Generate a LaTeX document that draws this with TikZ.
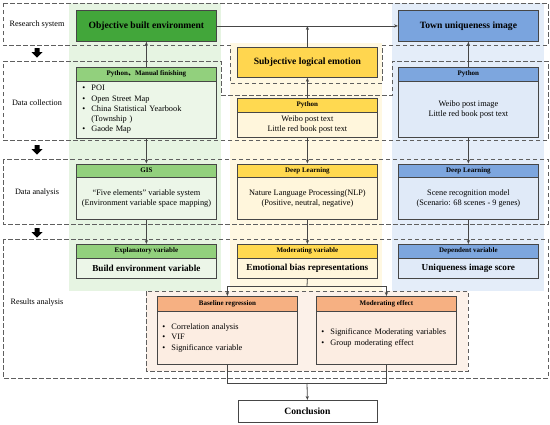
\documentclass[tikz,border=0pt]{standalone}
\usepackage{fontspec}
\setmainfont{Liberation Serif}
\newfontfamily\cjk{Noto Sans CJK SC}
\usetikzlibrary{arrows.meta}
\definecolor{objgreen}{RGB}{66,166,58}
\definecolor{hdrgreen}{RGB}{146,208,125}
\definecolor{bodygreen}{RGB}{236,246,232}
\definecolor{bggreen}{RGB}{230,244,226}
\definecolor{subjyellow}{RGB}{255,214,79}
\definecolor{hdryellow}{RGB}{255,217,80}
\definecolor{bodyyellow}{RGB}{255,246,220}
\definecolor{bgyellow}{RGB}{255,248,226}
\definecolor{townblue}{RGB}{122,164,222}
\definecolor{hdrblue}{RGB}{125,166,222}
\definecolor{bodyblue}{RGB}{224,234,248}
\definecolor{bgblue}{RGB}{228,237,249}
\definecolor{hdrorange}{RGB}{246,176,130}
\definecolor{bodyorange}{RGB}{252,237,226}
\definecolor{bgorange}{RGB}{252,241,233}
\definecolor{boxline}{RGB}{70,70,70}
\definecolor{dashline}{RGB}{95,95,95}
\newcommand\bul{\makebox[9pt][l]{\textbullet}}
\begin{document}
\begin{tikzpicture}[x=1pt,y=-1pt,
  frame/.style={draw=dashline,line width=0.9pt,dash pattern=on 4.5pt off 2.5pt},
  title/.style={draw=boxline,line width=0.8pt,minimum width=140pt,minimum height=31pt,inner sep=0pt,anchor=north west,font=\fontsize{9.6}{11}\selectfont\bfseries},
  hdr/.style={draw=boxline,line width=0.8pt,minimum width=140pt,minimum height=13.5pt,inner sep=0pt,anchor=north west,font=\fontsize{7}{8}\selectfont\bfseries},
  body/.style={draw=boxline,line width=0.8pt,minimum width=140pt,inner sep=0pt,anchor=north west,align=center,font=\fontsize{8.3}{10.3}\selectfont},
  listbody/.style={draw=boxline,line width=0.8pt,text width=128pt,inner xsep=6pt,inner ysep=0pt,anchor=north west,align=left,font=\fontsize{8.3}{10.2}\selectfont},
  res/.style={draw=boxline,line width=0.8pt,minimum width=140pt,inner sep=0pt,anchor=north west,font=\fontsize{9.2}{11}\selectfont\bfseries},
  lab/.style={font=\fontsize{8.2}{10}\selectfont},
  arr/.style={draw=boxline,line width=0.8pt,-{Stealth[length=4pt,width=3.2pt]}},
  con/.style={draw=boxline,line width=0.8pt}]
\useasboundingbox (0,0) rectangle (550,424);
\fill[white] (0,0) rectangle (550,424);
% column backgrounds
\fill[bggreen] (69,3) rectangle (221,291);
\fill[bgyellow] (230,43) rectangle (382,291);
\fill[bgblue] (392,3) rectangle (544,291);
\fill[bgorange] (146,291) rectangle (468,371);
% dashed frames
\draw[frame] (3,3) -- (548,3) -- (548,45) -- (382,45) -- (382,83) -- (230,83) -- (230,45) -- (3,45) -- cycle;
\draw[frame] (3,61) -- (221,61) -- (221,95) -- (392,95) -- (392,61) -- (548,61) -- (548,140) -- (3,140) -- cycle;
\draw[frame] (3,159) rectangle (548,224);
\draw[frame] (3,239) rectangle (548,378);
\draw[frame] (146,291) rectangle (468,371);
% big down arrows
\foreach \yy in {48,145,228}{
  \fill[black] (34.5,\yy) -- (39.5,\yy) -- (39.5,\yy+4) -- (42.5,\yy+4) -- (37,\yy+9.5) -- (31.5,\yy+4) -- (34.5,\yy+4) -- cycle;
}
% row labels
\node[lab] (lab1) at (37,25) {Research system};
\node[lab] (lab2) at (37,103) {Data collection};
\node[lab] (lab3) at (37,193) {Data analysis};
\node[lab] (lab4) at (37,303) {Results analysis};
% research system
\node[title,fill=objgreen] (obj) at (76,10) {Objective built environment};
\node[title,fill=subjyellow,minimum height=30pt] (subj) at (237,47) {Subjective logical emotion};
\node[title,fill=townblue] (town) at (398,10) {Town uniqueness image};
% data collection
\node[hdr,fill=hdrgreen] (gh1) at (76,67) {Python{\cjk 、}Manual finishing};
\node[listbody,fill=bodygreen,minimum height=57pt] (gb1) at (76,80.5) {\bul POI\\\bul Open Street Map\\\bul China Statistical Yearbook\\\hspace*{9pt}(Township )\\\bul Gaode Map};
\node[hdr,fill=hdryellow] (yh1) at (237,98) {Python};
\node[body,fill=bodyyellow,minimum height=25.5pt] (yb1) at (237,111.5) {Weibo post text\\Little red book post text};
\node[hdr,fill=hdrblue] (bh1) at (398,67) {Python};
\node[body,fill=bodyblue,minimum height=56.5pt] (bb1) at (398,80.5) {Weibo post image\\Little red book post text};
% data analysis
\node[hdr,fill=hdrgreen] (gh2) at (76,163.5) {GIS};
\node[body,fill=bodygreen,minimum height=42pt] (gb2) at (76,177) {“Five elements” variable system\\(Environment variable space mapping)};
\node[hdr,fill=hdryellow] (yh2) at (237,163.5) {Deep Learning};
\node[body,fill=bodyyellow,minimum height=42pt] (yb2) at (237,177) {Nature Language Processing(NLP)\\(Positive, neutral, negative)};
\node[hdr,fill=hdrblue] (bh2) at (398,163.5) {Deep Learning};
\node[body,fill=bodyblue,minimum height=42pt] (bb2) at (398,177) {Scene recognition model\\(Scenario: 68 scenes - 9 genes)};
% results
\node[hdr,fill=hdrgreen] (gh3) at (76,244) {Explanatory variable};
\node[res,fill=bodygreen,minimum height=20.5pt] (gb3) at (76,257.5) {Build environment variable};
\node[hdr,fill=hdryellow] (yh3) at (237,244) {Moderating variable};
\node[res,fill=bodyyellow,minimum height=20.5pt] (yb3) at (237,257.5) {Emotional bias representations};
\node[hdr,fill=hdrblue] (bh3) at (398,244) {Dependent variable};
\node[res,fill=bodyblue,minimum height=20.5pt] (bb3) at (398,257.5) {Uniqueness image score};
% orange boxes
\node[hdr,fill=hdrorange,minimum height=15pt] (oh1) at (157,296) {Baseline regression};
\node[listbody,fill=bodyorange,minimum height=53pt,inner xsep=5pt,text width=130pt] (ob1) at (157,311) {\bul Correlation analysis\\\bul VIF\\\bul Significance variable};
\node[hdr,fill=hdrorange,minimum height=15pt] (oh2) at (316,296) {Moderating effect};
\node[listbody,fill=bodyorange,minimum height=53pt,inner xsep=5pt,text width=130pt] (ob2) at (316,311) {\bul Significance Moderating variables\\\bul Group moderating effect};
% conclusion
\node[draw=boxline,line width=0.8pt,fill=white,minimum width=139pt,minimum height=22pt,inner sep=0pt,anchor=north west,font=\fontsize{9.6}{11}\selectfont\bfseries] (concl) at (237.5,400) {Conclusion};
% connectors
\draw[arr] (obj.east) -- (town.west);
\draw[arr] (subj.north) -- (subj.north |- obj.east);
\draw[arr] (gh1.north) -- (obj.south);
\draw[arr] (yh1.north) -- (subj.south);
\draw[arr] (bh1.north) -- (town.south);
\draw[arr] (gb1.south) -- (gh2.north);
\draw[arr] (yb1.south) -- (yh2.north);
\draw[arr] (bb1.south) -- (bh2.north);
\draw[arr] (gb2.south) -- (gh3.north);
\draw[arr] (yb2.south) -- (yh3.north);
\draw[arr] (bb2.south) -- (bh3.north);
\coordinate (split) at (307,286);
\draw[con] (yb3.south) -- (split);
\draw[arr] (split) -| (oh1.north);
\draw[arr] (split) -| (oh2.north);
\coordinate (join) at (307,383);
\draw[con] (ob1.south) |- (join);
\draw[con] (ob2.south) |- (join);
\draw[arr] (join) -- (concl.north);
\end{tikzpicture}
\end{document}
